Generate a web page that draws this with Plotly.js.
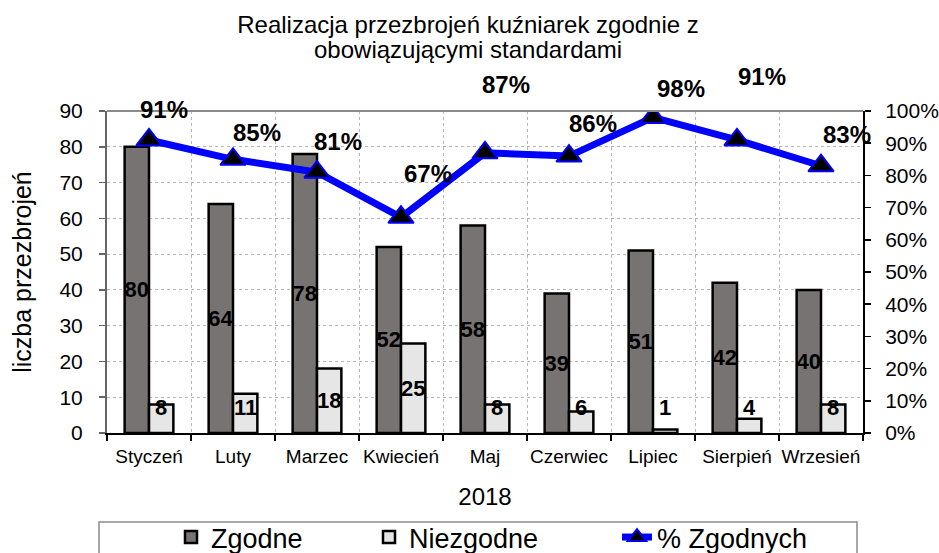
<!DOCTYPE html>
<html>
<head>
<meta charset="utf-8">
<script src="https://cdn.plot.ly/plotly-3.0.1.min.js"></script>
<style>html,body{margin:0;padding:0;background:#fff}#chart{width:939px;height:553px}</style>
</head>
<body>
<div id="chart"></div>
<script>
// ---- data ----
const months = ['Styczeń','Luty','Marzec','Kwiecień','Maj','Czerwiec','Lipiec','Sierpień','Wrzesień'];
const zgodne = [80, 64, 78, 52, 58, 39, 51, 42, 40];
const niezgodne = [8, 11, 18, 25, 8, 6, 1, 4, 8];
const pctZgodnych = [0.91, 0.85, 0.81, 0.67, 0.87, 0.86, 0.98, 0.91, 0.83];
const seriesNames = ['Zgodne', 'Niezgodne', '% Zgodnych'];
const titleLines = ['Realizacja przezbrojeń kuźniarek zgodnie z', 'obowiązującymi standardami'];
const xTitle = '2018';
const yTitle = 'liczba przezbrojeń';

// ---- styling ----
const FONT = 'Liberation Sans, Arial, Helvetica, sans-serif';
const pctLift = [30, 27, 31, 44, 68, 33, 29, 63, 31]; // label offsets (px) as placed in the original
const pctShift = [15, 24, 21, 27, 21, 24, 28, 25, 26];
const legendWidths = [81, 131, 189];
const gridColor = '#b5b5b5';

const traces = [
  {
    type: 'bar', name: seriesNames[0], x: months, y: zgodne,
    marker: {color: '#787373', line: {color: '#000', width: 2.5}},
    text: zgodne.map(String), textposition: 'inside', insidetextanchor: 'middle',
    textangle: 0, constraintext: 'none',
    insidetextfont: {family: FONT, size: 22, color: '#000', weight: 'bold'},
    legendwidth: legendWidths[0],
    hoverinfo: 'skip'
  },
  {
    type: 'bar', name: seriesNames[1], x: months, y: niezgodne,
    marker: {color: '#e6e6e6', line: {color: '#000', width: 2.5}},
    legendwidth: legendWidths[1],
    hoverinfo: 'skip'
  },
  {
    type: 'scatter', mode: 'lines+markers', name: seriesNames[2], x: months, y: pctZgodnych,
    yaxis: 'y2',
    line: {color: '#0000ff', width: 7},
    marker: {symbol: 'triangle-up', size: 22, color: '#000', line: {color: '#0000ff', width: 2}},
    legendwidth: legendWidths[2],
    hoverinfo: 'skip'
  }
];

const annotations = [];
niezgodne.forEach((v, i) => {
  annotations.push({
    x: months[i], y: Math.max(v / 2, 7), xref: 'x', yref: 'y',
    xshift: 12, text: String(v), showarrow: false,
    font: {family: FONT, size: 22, color: '#000', weight: 'bold'}
  });
});
pctZgodnych.forEach((p, i) => {
  annotations.push({
    x: months[i], y: p, xref: 'x', yref: 'y2',
    xshift: pctShift[i], yshift: pctLift[i], text: Math.round(p * 100) + '%', showarrow: false,
    font: {family: FONT, size: 24, color: '#000', weight: 'bold'}
  });
});
annotations.push({
  text: titleLines[1], xref: 'paper', yref: 'paper',
  x: (468 - 107) / 756, y: (433 - 50) / 322, xanchor: 'center', yanchor: 'middle',
  showarrow: false, font: {family: FONT, size: 24, color: '#000'}
});

const layout = {
  width: 939, height: 553,
  margin: {l: 107, r: 76, t: 111, b: 120},
  paper_bgcolor: '#fff', plot_bgcolor: '#fff',
  font: {family: FONT, color: '#000'},
  title: {
    text: titleLines[0], font: {family: FONT, size: 24, color: '#000'},
    xref: 'container', x: 468 / 939, xanchor: 'center',
    yref: 'container', y: 1 - 16 / 553, yanchor: 'top'
  },
  barmode: 'group', bargap: 0.42, bargroupgap: 0,
  showlegend: true,
  legend: {
    orientation: 'h', xref: 'container', x: 99 / 939, xanchor: 'left',
    yref: 'container', y: 1 - 513 / 553, yanchor: 'top',
    font: {family: FONT, size: 27, color: '#000'},
    borderwidth: 0, bgcolor: 'rgba(0,0,0,0)',
    indentation: 72, traceorder: 'normal'
  },
  xaxis: {
    type: 'category', tickson: 'boundaries', tickangle: 0, range: [-0.5, 8.5],
    showgrid: true, gridcolor: gridColor, griddash: 'dot', gridwidth: 1,
    showline: true, linecolor: '#000', linewidth: 2,
    ticks: 'outside', ticklen: 6, tickcolor: '#000', tickwidth: 1.5,
    ticklabelstandoff: 5,
    tickfont: {family: FONT, size: 19, color: '#000'},
    title: {text: xTitle, font: {family: FONT, size: 24, color: '#000'}, standoff: 22},
    automargin: false,
    fixedrange: true
  },
  yaxis: {
    range: [0, 90], dtick: 10, tick0: 0,
    showgrid: true, gridcolor: gridColor, griddash: 'dot', gridwidth: 1,
    zeroline: false, showline: true, linecolor: '#666', linewidth: 2,
    ticks: 'outside', ticklen: 6, tickcolor: '#666', tickwidth: 1.5,
    ticklabelstandoff: 12,
    tickfont: {family: FONT, size: 21, color: '#000'},
    title: {text: yTitle, font: {family: FONT, size: 25, color: '#000'}, standoff: 21},
    automargin: false,
    fixedrange: true
  },
  yaxis2: {
    overlaying: 'y', side: 'right', range: [0, 1], dtick: 0.1, tick0: 0,
    tickformat: '.0%', showgrid: false, zeroline: false,
    showline: true, linecolor: '#000', linewidth: 2,
    ticks: 'outside', ticklen: 6, tickcolor: '#000', tickwidth: 1.5,
    ticklabelstandoff: 10,
    tickfont: {family: FONT, size: 21, color: '#000'},
    automargin: false,
    fixedrange: true
  },
  shapes: [
    {type: 'line', xref: 'paper', yref: 'paper', x0: 0, x1: 1, y0: 1, y1: 1,
     line: {color: '#8c8c8c', width: 2}},
    {type: 'rect', xref: 'paper', yref: 'paper',
     x0: (99 - 107) / 756, x1: (857 - 107) / 756,
     y0: (433 - 522) / 322, y1: (433 - 575) / 322,
     line: {color: '#8a8a8a', width: 1.5}, fillcolor: 'rgba(0,0,0,0)', layer: 'above'}
  ],
  annotations: annotations
};

Plotly.newPlot('chart', traces, layout, {displayModeBar: false, staticPlot: true});
</script>
</body>
</html>
